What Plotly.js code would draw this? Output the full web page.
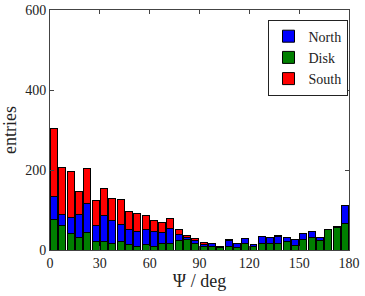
<!DOCTYPE html>
<html>
<head>
<meta charset="utf-8">
<script src="https://cdn.plot.ly/plotly-3.0.1.min.js"></script>
<style>html,body{margin:0;padding:0;background:#fff;}#chart{width:365px;height:296px;}</style>
</head>
<body>
<div id="chart"></div>
<script>
// bin centres (5 deg bins from 0 to 180)
const binCenters = [2.5,7.5,12.5,17.5,22.5,27.5,32.5,37.5,42.5,47.5,52.5,57.5,62.5,67.5,72.5,77.5,82.5,87.5,92.5,97.5,102.5,107.5,112.5,117.5,122.5,127.5,132.5,137.5,142.5,147.5,152.5,157.5,162.5,167.5,172.5,177.5];
const disk  = [77,61,41,31,43,22,22,17,22,13,9,14,9,17,17,24,27,17,8,9,7,10,6,17,9,17,17,17,22,12,27,32,23,51,56,66];
const north = [57,27,41,57,74,39,65,58,42,39,38,38,38,27,36,16,5,7,5,8,3,13,10,12,5,17,15,17,10,15,14,14,9,0,3,45];
const south = [170,119,114,59,88,63,66,54,63,45,45,35,26,25,25,12,5,6,5,0,0,4,0,0,0,0,0,3,0,0,0,0,0,0,0,0];
const xTicks = [0,30,60,90,120,150,180];
const yTicks = [0,200,400,600];

const serif = "'Liberation Serif', 'DejaVu Serif', serif";
const edge = {color:'#000', width:1};
const traces = [
  {type:'bar', name:'Disk', x:binCenters, y:disk, width:4.2, marker:{color:'#007f00', line:edge}, showlegend:false},
  {type:'bar', name:'North', x:binCenters, y:north, width:4.2, marker:{color:'#0000ff', line:edge}},
  {type:'bar', name:'South', x:binCenters, y:south, width:4.2, marker:{color:'#ff0000', line:edge}},
  {type:'bar', name:'Disk', x:[null], y:[null], marker:{color:'#007f00', line:edge}, legendrank:2}
];
traces[1].legendrank = 1; traces[2].legendrank = 3;
const axisCommon = {showline:true, linecolor:'#444', linewidth:1, mirror:'ticks', ticks:'inside', ticklen:4, tickcolor:'#444', showgrid:false, zeroline:false, tickfont:{family:serif, size:14, color:'#222'}};
const layout = {
  width:365, height:296,
  margin:{l:50, r:16, t:10, b:46},
  barmode:'stack',
  paper_bgcolor:'#fff', plot_bgcolor:'#fff',
  font:{family:serif, color:'#222'},
  xaxis:Object.assign({}, axisCommon, {range:[0,180], tickvals:xTicks, ticktext:xTicks.map(String), title:{text:'Ψ / deg', font:{family:serif, size:18, color:'#222'}, standoff:2}}),
  yaxis:Object.assign({}, axisCommon, {range:[0,600], tickvals:yTicks, ticktext:yTicks.map(String), title:{text:'entries', font:{family:serif, size:18, color:'#222'}, standoff:4}}),
  legend:{x:0.995, xanchor:'right', y:0.96, yanchor:'top', bordercolor:'#222', borderwidth:1, bgcolor:'#fff', font:{family:serif, size:14, color:'#222'}, traceorder:'normal', itemwidth:30}
};
Plotly.newPlot('chart', traces, layout, {displayModeBar:false, staticPlot:true});
</script>
</body>
</html>
